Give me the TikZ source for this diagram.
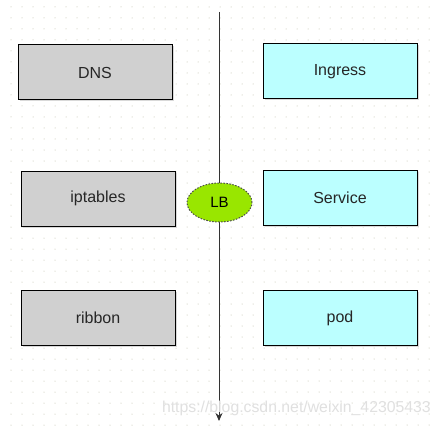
\documentclass[tikz,border=0pt]{standalone}
\usepackage{fontspec}
\setmainfont{Liberation Sans}
\usetikzlibrary{arrows.meta,shapes.geometric}
\definecolor{boxgray}{HTML}{D0D0D0}
\definecolor{boxcyan}{HTML}{BBFFFF}
\definecolor{lbgreen}{HTML}{99E600}
\definecolor{dotc}{HTML}{B8B8A0}
\tikzset{
  leftbox/.style={draw=black, line width=1pt, fill=boxgray, minimum width=154pt, minimum height=55pt, inner sep=0pt, font=\fontsize{16}{18}\selectfont, text=black!85},
  rightbox/.style={leftbox, fill=boxcyan},
  shadowbox/.style={fill=black!15, draw=none, minimum width=154pt, minimum height=55pt, inner sep=0pt},
}
\begin{document}
\begin{tikzpicture}[x=1pt,y=-1pt]
\useasboundingbox (0,0) rectangle (437,428);
\fill[white] (0,0) rectangle (437,428);
\foreach \i in {0,...,39} {
  \foreach \j in {0,...,38} {
    \fill[dotc] ({11+11*\i},{7+11*\j}) circle (0.5);
  }
}
% shadows
\foreach \sx/\sy in {96.5/74,99.5/200,99.5/319.5,341.5/73,341.5/199,341.5/319.5} {
  \node[shadowbox] at (\sx,\sy) {};
}
\node[leftbox] (dns) at (95,72.5) {DNS};
\node[leftbox] (ipt) at (98,198.5) {iptables};
\node[leftbox] (rib) at (98,318) {ribbon};
\node[rightbox] (ing) at (340,71.5) {Ingress};
\node[rightbox] (svc) at (340,197.5) {Service};
\node[rightbox] (pod) at (340,318) {pod};
\coordinate (top) at (219,12);
\coordinate (bot) at (219,421);
\draw[black!80, line width=1pt, -{Stealth[length=8pt,width=7pt]}] (top) -- (bot);
\node[ellipse, draw=black!70, dash pattern=on 1.5pt off 1.5pt, line width=1pt, fill=lbgreen, minimum width=65pt, minimum height=39pt, inner sep=0pt, font=\fontsize{15}{17}\selectfont] (lb) at (219.5,202.5) {LB};
\node[text=black!12, font=\fontsize{15.8}{18}\selectfont, anchor=east, inner sep=0pt] (wm) at (431,408) {https://blog.csdn.net/weixin\_42305433};
\end{tikzpicture}
\end{document}
